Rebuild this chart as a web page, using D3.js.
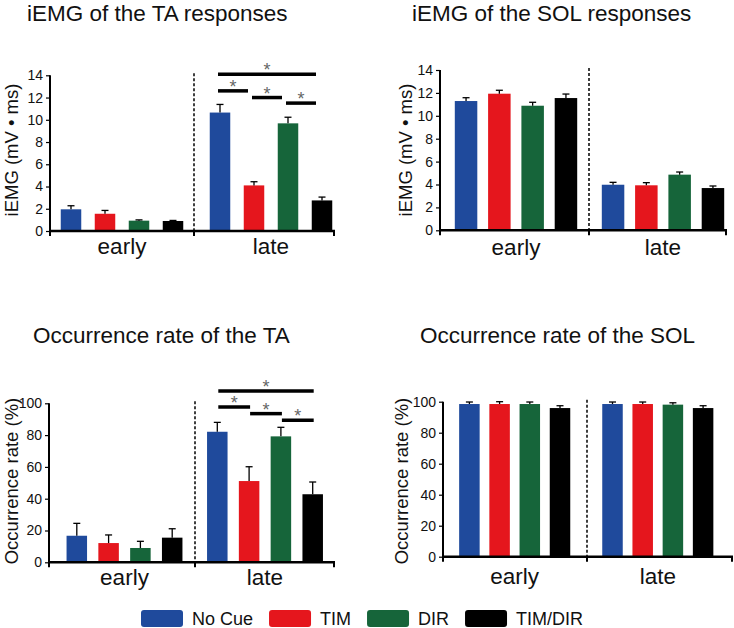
<!DOCTYPE html>
<html><head><meta charset="utf-8">
<script src="https://cdn.jsdelivr.net/npm/d3@7"></script>
<style>body{margin:0;background:#fff}svg{display:block}text{font-family:"Liberation Sans",Arial,sans-serif}</style>
</head><body>
<svg id="c" width="734" height="628"></svg>
<script>
// ---- data ----
const categories = ["early", "late"];
const series = ["No Cue", "TIM", "DIR", "TIM/DIR"];
const colors = ["#1f4a9c", "#e5161d", "#16653a", "#000000"];

const taIemgMean = [[1.95, 1.55, 0.93, 0.9], [10.65, 4.1, 9.68, 2.75]];
const taIemgErr  = [[0.32, 0.3, 0.07, 0.05], [0.73, 0.33, 0.55, 0.3]];
const solIemgMean = [[11.29, 11.93, 10.88, 11.55], [3.98, 3.93, 4.86, 3.69]];
const solIemgErr  = [[0.29, 0.3, 0.3, 0.35], [0.21, 0.23, 0.23, 0.18]];
const taOccMean = [[16.7, 12.1, 9.0, 15.5], [82.1, 51.1, 79.2, 42.8]];
const taOccErr  = [[7.8, 5.1, 4.2, 5.6], [5.9, 9.0, 5.7, 7.7]];
const solOccMean = [[98.5, 98.5, 98.5, 95.9], [98.5, 98.5, 98.1, 95.9]];
const solOccErr  = [[1.3, 1.5, 1.3, 1.5], [1.3, 1.3, 1.2, 1.5]];

const iemgTicks = [0, 2, 4, 6, 8, 10, 12, 14];
const occTicks = [0, 20, 40, 60, 80, 100];

// significance brackets in the late group: [from, to, level (data units)]
const taIemgSig = [["No Cue", "TIM/DIR", 14.1], ["No Cue", "TIM", 12.6], ["TIM", "DIR", 12.0], ["DIR", "TIM/DIR", 11.5]];
const taOccSig  = [["No Cue", "TIM/DIR", 107.7], ["No Cue", "TIM", 97.7], ["TIM", "DIR", 93.5], ["DIR", "TIM/DIR", 89.3]];

// ---- layout ----
const panels = [
  {title: "iEMG of the TA responses", tx: 27, ty: 21, ylab: "iEMG (mV \u2022 ms)", lx: 11, ly: 150,
   mean: taIemgMean, err: taIemgErr, ticks: iemgTicks, yMax: 14,
   ax0: 50, ax1: 335, y0: 231, yTop: 75.3, gc: [122, 271], step: 34, bw: 20.5, div: 194, catY: 254,
   sig: taIemgSig, sdx0: -2, sdx1: -6},
  {title: "iEMG of the SOL responses", tx: 412, ty: 21, ylab: "iEMG (mV \u2022 ms)", lx: 405, ly: 150,
   mean: solIemgMean, err: solIemgErr, ticks: iemgTicks, yMax: 14,
   ax0: 440, ax1: 727, y0: 230.3, yTop: 70, gc: [516, 663], step: 33.3, bw: 22.5, div: 589, catY: 255,
   sig: []},
  {title: "Occurrence rate of the TA", tx: 33, ty: 343, ylab: "Occurrence rate (%)", lx: 11, ly: 481,
   mean: taOccMean, err: taOccErr, ticks: occTicks, yMax: 100,
   ax0: 49, ax1: 335, y0: 562.3, yTop: 403.3, gc: [124.5, 265], step: 31.8, bw: 20.5, div: 195, catY: 585,
   sig: taOccSig, sdx0: 1, sdx1: 1},
  {title: "Occurrence rate of the SOL", tx: 420, ty: 343, ylab: "Occurrence rate (%)", lx: 401, ly: 481,
   mean: solOccMean, err: solOccErr, ticks: occTicks, yMax: 100,
   ax0: 443, ax1: 733, y0: 556.7, yTop: 401.7, gc: [514.7, 657.8], step: 30.2, bw: 20.5, div: 587, catY: 584,
   sig: []}
];

const svg = d3.select("#c");

panels.forEach(p => {
  const g = svg.append("g");
  const S = p.gc[1] - p.gc[0];
  const x = d3.scaleBand().domain(categories).range([p.gc[0] - S / 2, p.gc[1] + S / 2]).padding(0);
  const pad = 1 - p.bw / p.step;
  const xi = d3.scaleBand().domain(series).range([-2 * p.step, 2 * p.step]).paddingInner(pad).paddingOuter(pad / 2);
  const y = d3.scaleLinear().domain([0, p.yMax]).range([p.y0, p.yTop]);
  const cx = (c, s) => x(c) + x.bandwidth() / 2 + xi(s) + xi.bandwidth() / 2;

  // title
  g.append("text").attr("x", p.tx).attr("y", p.ty).attr("font-size", 22.5).attr("fill", "#111").text(p.title);
  // y label
  g.append("text").attr("transform", `translate(${p.lx},${p.ly}) rotate(-90)`)
    .attr("text-anchor", "middle").attr("dominant-baseline", "central")
    .attr("font-size", 18.5).attr("fill", "#111").text(p.ylab);

  // bars
  const rows = [];
  categories.forEach((c, ci) => series.forEach((s, si) => rows.push({c, s, si, v: p.mean[ci][si], e: p.err[ci][si]})));
  g.selectAll("rect.bar").data(rows).join("rect").attr("class", "bar")
    .attr("x", d => cx(d.c, d.s) - xi.bandwidth() / 2).attr("width", xi.bandwidth())
    .attr("y", d => y(d.v)).attr("height", d => y(0) - y(d.v))
    .attr("fill", d => colors[d.si]);
  // error bars
  const eb = g.selectAll("g.eb").data(rows).join("g").attr("class", "eb")
    .attr("stroke", "#000").attr("stroke-width", 1.3);
  eb.append("line").attr("x1", d => cx(d.c, d.s)).attr("x2", d => cx(d.c, d.s))
    .attr("y1", d => y(d.v)).attr("y2", d => y(d.v + d.e));
  eb.append("line").attr("x1", d => cx(d.c, d.s) - 3.5).attr("x2", d => cx(d.c, d.s) + 3.5)
    .attr("y1", d => y(d.v + d.e)).attr("y2", d => y(d.v + d.e));

  // y axis
  const ya = g.append("g").attr("transform", `translate(${p.ax0},0)`)
    .call(d3.axisLeft(y).tickValues(p.ticks).tickSize(4).tickPadding(3).tickFormat(d3.format("d")));
  ya.select(".domain").attr("stroke", "#000").attr("stroke-width", 2).attr("d", `M0,${p.y0}V${p.yTop}`);
  ya.selectAll(".tick line").attr("stroke", "#000").attr("stroke-width", 1.2);
  ya.selectAll(".tick text").attr("font-size", 14).attr("fill", "#111").attr("font-family", "'Liberation Sans',Arial,sans-serif");

  // x axis line
  g.append("line").attr("x1", p.ax0 - 1).attr("x2", p.ax1).attr("y1", p.y0).attr("y2", p.y0)
    .attr("stroke", "#000").attr("stroke-width", 2.5);
  [p.ax0, p.div, p.ax1 - 1].forEach(tx => g.append("line").attr("x1", tx).attr("x2", tx)
    .attr("y1", p.y0).attr("y2", p.y0 + 5).attr("stroke", "#000").attr("stroke-width", 2));
  // divider
  g.append("line").attr("x1", p.div).attr("x2", p.div).attr("y1", p.yTop - 2).attr("y2", p.y0)
    .attr("stroke", "#000").attr("stroke-width", 1.5).attr("stroke-dasharray", "3,2");

  // category labels
  g.selectAll("text.cat").data(categories).join("text").attr("class", "cat")
    .attr("x", c => x(c) + x.bandwidth() / 2).attr("y", p.catY)
    .attr("text-anchor", "middle").attr("font-size", 22.5).attr("fill", "#111").text(c => c);

  // significance
  p.sig.forEach(([a, b, lv]) => {
    const x1 = cx("late", a) + p.sdx0, x2 = cx("late", b) + p.sdx1, yy = y(lv);
    g.append("line").attr("x1", x1).attr("x2", x2).attr("y1", yy).attr("y2", yy)
      .attr("stroke", "#000").attr("stroke-width", 3.5);
    g.append("text").attr("x", (x1 + x2) / 2).attr("y", yy + 2).attr("text-anchor", "middle")
      .attr("font-size", 18).attr("font-family", "'Liberation Serif','Times New Roman',serif")
      .attr("fill", "#666").text("*");
  });
});

// legend
const lg = svg.append("g");
let lx = 141;
series.forEach((s, i) => {
  lg.append("rect").attr("x", lx).attr("y", 610).attr("width", 42).attr("height", 17).attr("rx", 3)
    .attr("fill", colors[i]);
  const t = lg.append("text").attr("x", lx + 51).attr("y", 625).attr("font-size", 18).attr("fill", "#111").text(s);
  lx += 51 + t.node().getComputedTextLength() + 16;
});
</script>
</body></html>
